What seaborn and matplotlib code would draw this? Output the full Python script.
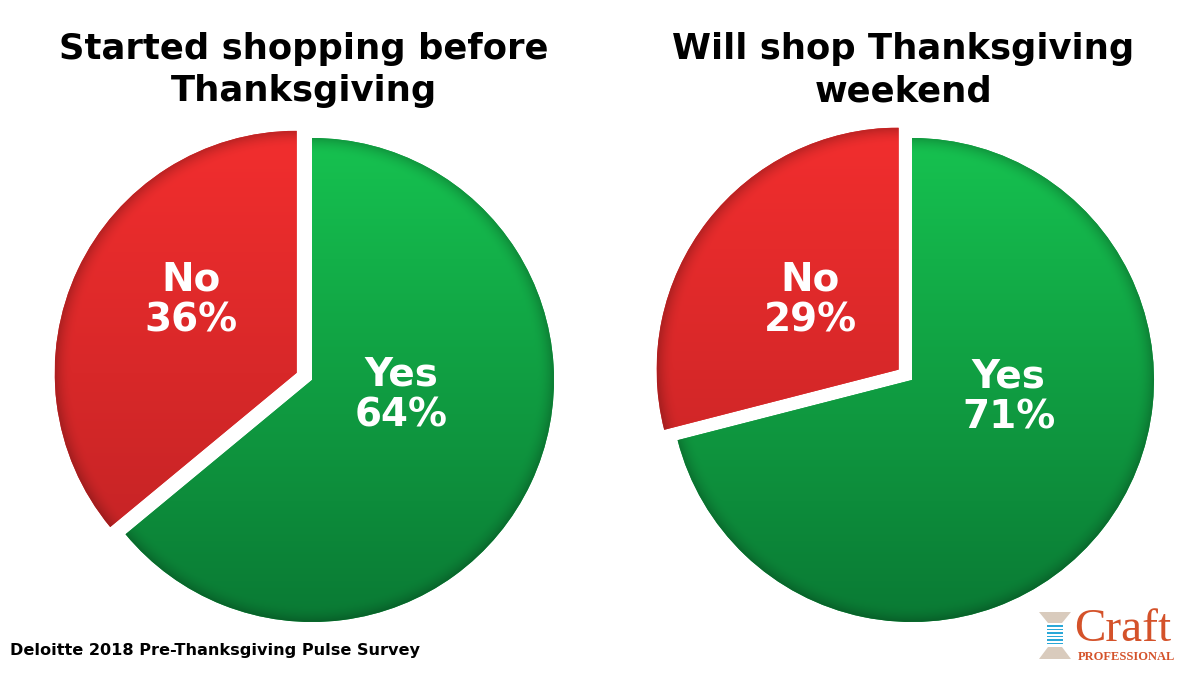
import numpy as np
import matplotlib
matplotlib.use("Agg")
import matplotlib.pyplot as plt
import matplotlib.patches as mpatches
import seaborn as sns

# --- Data ---
categories = ["Yes", "No"]
started_before = [64, 36]
thanksgiving_weekend = [71, 29]
titles = ["Started shopping before\nThanksgiving", "Will shop Thanksgiving\nweekend"]
source = "Deloitte 2018 Pre-Thanksgiving Pulse Survey"

# --- Styling ---
green_top, green_bot = np.array([22, 194, 80]) / 255, np.array([10, 122, 52]) / 255
red_top, red_bot = np.array([242, 46, 46]) / 255, np.array([190, 34, 36]) / 255
gradients = [(green_top, green_bot), (red_top, red_bot)]

sns.set_theme(style="white")
plt.rcParams["font.family"] = ["DejaVu Sans"]

fig = plt.figure(figsize=(12, 6.75), dpi=100)
fig.patch.set_facecolor("white")

W, H = 1200, 675
R_PX = 242
HALF = 300
LIM = HALF / R_PX

# pie centres (px) and label spots (in radius units)
centres = [(312, 380), (912, 380)]
label_spots = [
    [(0.37, -0.06), (-0.50, 0.33)],
    [(0.40, -0.07), (-0.42, 0.33)],
]


def shade_wedge(ax, wedge, top, bot):
    cx, cy = wedge.center
    r = wedge.r
    n = 300
    xs = np.linspace(cx - r, cx + r, n)
    ys = np.linspace(cy - r, cy + r, n)
    X, Y = np.meshgrid(xs, ys)
    t = (Y - (cy - r)) / (2 * r)
    img = bot[None, None, :] + (top - bot)[None, None, :] * t[..., None]
    rr = np.hypot(X - cx, Y - cy) / r
    rim = 1 - 0.2 * np.clip((rr - 0.93) / 0.07, 0, 1) ** 2
    img = np.clip(img * rim[..., None], 0, 1)
    im = ax.imshow(img, origin="lower", extent=(cx - r, cx + r, cy - r, cy + r),
                   interpolation="bilinear", zorder=2)
    im.set_clip_path(wedge)


for i, values in enumerate([started_before, thanksgiving_weekend]):
    cx, cy = centres[i]
    ax = fig.add_axes([(cx - HALF) / W, (H - cy - HALF) / H, 2 * HALF / W, 2 * HALF / H])
    wedges, _ = ax.pie(values, startangle=90, counterclock=False,
                       explode=[0, 0.07], radius=1,
                       colors=["#12a444", "#de2a2a"],
                       wedgeprops=dict(linewidth=0))
    for w, (top, bot) in zip(wedges, gradients):
        shade_wedge(ax, w, top, bot)
    for (lx, ly), cat, v in zip(label_spots[i], categories, values):
        ax.text(lx, ly, f"{cat}\n{v}%", ha="center", va="center", color="white",
                fontsize=28, fontweight="bold", linespacing=1.1, zorder=5)
    ax.set_xlim(-LIM, LIM)
    ax.set_ylim(-LIM, LIM)
    ax.set_aspect("equal")
    ax.axis("off")
    fig.text(cx / W - 0.007, 1 - 70 / H, titles[i], ha="center", va="center",
             fontsize=25.5, fontweight="bold", color="black", linespacing=1.3)

fig.text(10 / W, 1 - 651 / H, source, ha="left", va="center",
         fontsize=11.6, fontweight="bold", color="black")

# --- Craft Professional logo ---
orange = "#d4522a"
beige = "#d9cbbd"
blue = "#2aa8d8"
tf = fig.transFigure


def px(x, y):
    return (x / W, 1 - y / H)


fig.patches.append(mpatches.Polygon([px(1039, 612), px(1071, 612), px(1062, 623), px(1048, 623)],
                                    closed=True, transform=tf, facecolor=beige, edgecolor="none"))
fig.patches.append(mpatches.Polygon([px(1048, 647), px(1062, 647), px(1071, 659), px(1039, 659)],
                                    closed=True, transform=tf, facecolor=beige, edgecolor="none"))
for yy in np.arange(625, 646, 3.5):
    fig.patches.append(mpatches.Rectangle(px(1047, yy + 1.5), 16 / W, 1.5 / H, transform=tf,
                                          facecolor=blue, edgecolor="none"))
fig.text(1074 / W, 1 - 641 / H, "Craft", ha="left", va="baseline", fontsize=34,
         family="Liberation Serif", color=orange)
fig.text(1078 / W, 1 - 657 / H, "PROFESSIONAL", ha="left", va="center", fontsize=9,
         family="Liberation Serif", fontweight="bold", color=orange)

fig.savefig("out.png", dpi=100, facecolor="white")
